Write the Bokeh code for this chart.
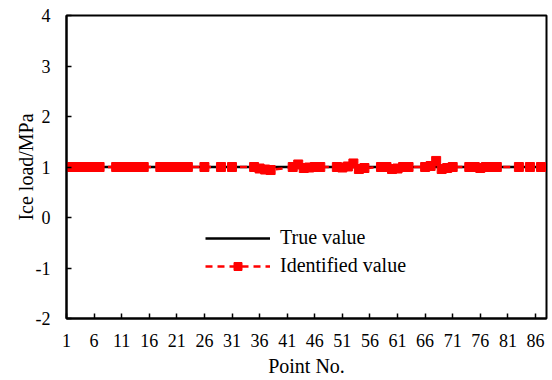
from bokeh.plotting import figure
from bokeh.models import Range1d, FixedTicker, Legend, LegendItem
from bokeh.embed import file_html
from bokeh.resources import INLINE

# ---- data ----
true_x = list(range(1, 89))
true_y = [1.0] * 88

ident_x = [2, 3, 4, 5, 6, 7,
           10, 11, 12, 13, 14, 15,
           18, 19, 20, 21, 22, 23,
           26, 29, 31,
           35, 36, 37, 38,
           42, 43, 44, 45, 46, 47,
           50, 51, 52, 53, 54, 55,
           58, 59, 60, 61, 62, 63,
           66, 67, 68, 69, 70, 71,
           74, 75, 76, 77, 78, 79,
           83, 85, 87]
ident_y = [1.0, 1.0, 1.0, 1.0, 1.0, 1.0,
           1.0, 1.0, 1.0, 1.0, 1.0, 1.0,
           1.0, 1.0, 1.0, 1.0, 1.0, 1.0,
           1.0, 1.0, 1.0,
           1.0, 0.97, 0.95, 0.94,
           1.0, 1.05, 0.98, 0.99, 1.0, 1.0,
           1.0, 0.99, 1.01, 1.07, 0.96, 0.98,
           1.0, 1.0, 0.96, 0.97, 1.0, 1.0,
           1.0, 1.02, 1.12, 0.96, 0.98, 1.0,
           1.0, 1.0, 0.98, 1.0, 1.0, 1.0,
           1.0, 1.0, 1.0]

x_ticks = [1, 6, 11, 16, 21, 26, 31, 36, 41, 46, 51, 56, 61, 66, 71, 76, 81, 86]
y_ticks = [-2, -1, 0, 1, 2, 3, 4]
y_tick_labels = ["-2", "-1", "0", "1", "2", "3", "4"]

FONT = "Liberation Serif"
FS_TICK = "18px"
FS = "20px"

p = figure(width=552, height=380, output_backend="svg", toolbar_location=None,
           x_range=Range1d(1, 88), y_range=Range1d(-2, 4),
           min_border_left=66, min_border_right=6, min_border_top=15, min_border_bottom=62)
p.outline_line_color = "black"
p.outline_line_width = 2
p.background_fill_color = "white"
p.border_fill_color = "white"
p.xgrid.visible = False
p.ygrid.visible = False

p.xaxis.axis_line_color = "black"
p.yaxis.axis_line_color = "black"
p.xaxis.axis_line_width = 2
p.yaxis.axis_line_width = 2
p.xaxis.major_tick_in = 5
p.yaxis.major_tick_in = 5
p.xaxis.major_tick_out = 0
p.yaxis.major_tick_out = 0
p.xaxis.major_tick_line_width = 1.5
p.yaxis.major_tick_line_width = 1.5
p.xaxis.minor_tick_line_color = None
p.yaxis.minor_tick_line_color = None
p.xaxis.major_label_text_font = FONT
p.yaxis.major_label_text_font = FONT
p.xaxis.major_label_text_font_size = FS_TICK
p.yaxis.major_label_text_font_size = FS_TICK
p.xaxis.major_label_text_color = "black"
p.yaxis.major_label_text_color = "black"
p.xaxis.axis_label_text_font = FONT
p.yaxis.axis_label_text_font = FONT
p.xaxis.axis_label_text_font_size = FS
p.yaxis.axis_label_text_font_size = FS
p.xaxis.axis_label_text_font_style = "normal"
p.yaxis.axis_label_text_font_style = "normal"
p.xaxis.axis_label_text_color = "black"
p.yaxis.axis_label_text_color = "black"

p.xaxis.ticker = FixedTicker(ticks=x_ticks)
p.yaxis.ticker = FixedTicker(ticks=y_ticks)
p.yaxis.major_label_overrides = {t: s for t, s in zip(y_ticks, y_tick_labels)}
p.xaxis.axis_label = "Point No."
p.yaxis.axis_label = "Ice load/MPa"
p.xaxis.major_label_standoff = 15
p.yaxis.major_label_standoff = 16
p.xaxis.axis_label_standoff = 5
p.yaxis.axis_label_standoff = -4

r_true = p.line(true_x, true_y, line_color="black", line_width=2.5)
r_id_line = p.line(ident_x, ident_y, line_color="#ff0000", line_width=2.5, line_dash="7 5")
r_id_pts = p.scatter(ident_x, ident_y, marker="square", size=9,
                     fill_color="#ff0000", line_color="#ff0000")

legend = Legend(items=[LegendItem(label="True value", renderers=[r_true]),
                       LegendItem(label="Identified value", renderers=[r_id_line, r_id_pts])],
                location=(139, 41), orientation="vertical")
legend.border_line_alpha = 0
legend.background_fill_alpha = 0
legend.padding = 0
legend.margin = 0
legend.spacing = 5
legend.glyph_width = 65
legend.glyph_height = 20
legend.label_height = 20
legend.label_standoff = 10
legend.label_text_font = FONT
legend.label_text_font_size = FS
legend.label_text_color = "black"
p.add_layout(legend, "center")

open("out.html", "w").write(file_html(p, INLINE))
